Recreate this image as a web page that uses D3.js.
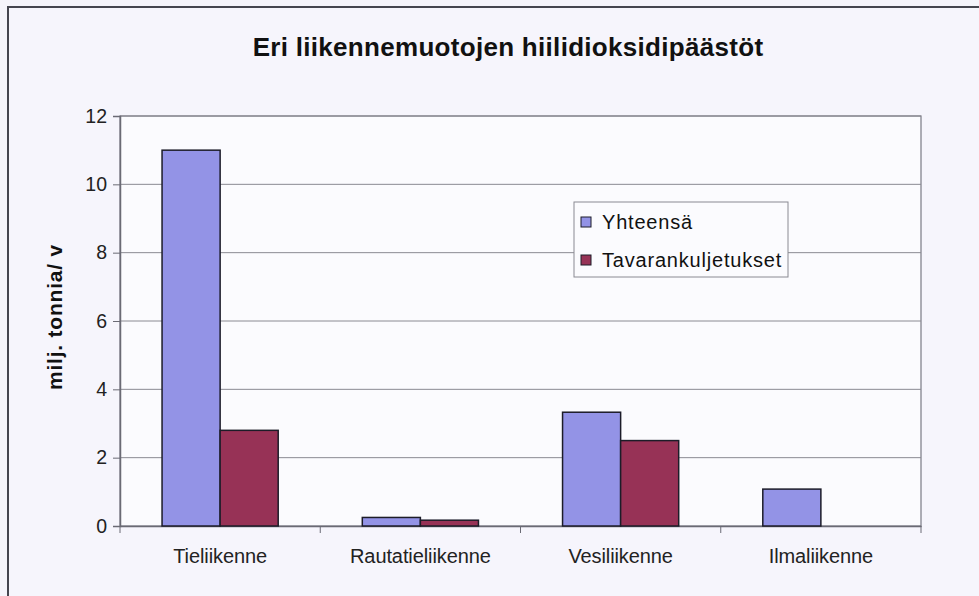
<!DOCTYPE html>
<html><head><meta charset="utf-8">
<script src="https://cdn.jsdelivr.net/npm/d3@7"></script>
<style>body{margin:0;background:#f5f4fb;}svg{display:block;font-family:"Liberation Sans",Arial,sans-serif;}</style>
</head><body>
<svg id="c" width="979" height="596"></svg>
<script>
const categories = ["Tieliikenne","Rautatieliikenne","Vesiliikenne","Ilmaliikenne"];
const seriesNames = ["Yhteensä","Tavarankuljetukset"];
const yhteensa = [11.0, 0.25, 3.33, 1.08];
const tavara = [2.8, 0.17, 2.5, 0];
const yTicks = [0,2,4,6,8,10,12];
const colors = ["#9393e6","#973256"];

const svg = d3.select("#c");
const L=120, R=921, T=116, B=526;
svg.append("rect").attr("x",8).attr("y",7).attr("width",990).attr("height",600)
  .attr("fill","#f6f5fc").attr("stroke","#45454f").attr("stroke-width",2);
svg.append("text").attr("x",508).attr("y",56).attr("text-anchor","middle")
  .attr("font-size",26).attr("font-weight","bold").attr("fill","#111").attr("letter-spacing","0.3")
  .text("Eri liikennemuotojen hiilidioksidipäästöt");

const x = d3.scaleBand().domain(categories).range([L,R]);
const xs = d3.scaleBand().domain(seriesNames).range([x.bandwidth()*0.21, x.bandwidth()*0.79]);
const y = d3.scaleLinear().domain([0,12]).range([B,T]);

svg.append("rect").attr("x",L).attr("y",T).attr("width",R-L).attr("height",B-T)
  .attr("fill","#fbfbfe").attr("stroke","#7a7a84").attr("stroke-width",1.2);
svg.append("g").selectAll("line").data(yTicks.filter(d=>d>0)).join("line")
  .attr("x1",L).attr("x2",R).attr("y1",d=>y(d)).attr("y2",d=>y(d))
  .attr("stroke","#8a8a92").attr("stroke-width",1);

const ya = svg.append("g").attr("transform",`translate(${L},0)`)
  .call(d3.axisLeft(y).tickValues(yTicks).tickSize(7).tickPadding(6));
ya.select(".domain").attr("stroke","#6a6a74").attr("stroke-width",1.5);
ya.selectAll(".tick line").attr("stroke","#6a6a74");
ya.selectAll("text").attr("font-size",19.5).attr("fill","#222").attr("font-family","Liberation Sans, Arial, sans-serif");

const xa = svg.append("g").attr("transform",`translate(0,${B})`)
  .call(d3.axisBottom(x).tickSize(0).tickPadding(23));
xa.select(".domain").attr("stroke","#6a6a74").attr("stroke-width",1.5);
xa.selectAll("text").attr("font-size",20).attr("fill","#222").attr("font-family","Liberation Sans, Arial, sans-serif").attr("letter-spacing","-0.1");
const bounds = categories.map(c=>x(c)).concat([R]);
svg.append("g").selectAll("line").data(bounds).join("line")
  .attr("x1",d=>d).attr("x2",d=>d).attr("y1",B).attr("y2",B+7).attr("stroke","#6a6a74");

const data = [yhteensa, tavara];
data.forEach((vals,si)=>{
  svg.append("g").selectAll("rect").data(vals.map((v,i)=>({v,c:categories[i]})).filter(d=>d.v>0)).join("rect")
    .attr("x",d=>x(d.c)+xs(seriesNames[si]))
    .attr("width",xs.bandwidth())
    .attr("y",d=>y(d.v)).attr("height",d=>B-y(d.v))
    .attr("fill",colors[si]).attr("stroke","#1c1c28").attr("stroke-width",1.5);
});

svg.append("text").attr("transform",`translate(62,${(T+B)/2-4}) rotate(-90)`).attr("text-anchor","middle")
  .attr("font-size",21).attr("font-weight","bold").attr("fill","#111").attr("letter-spacing","0.8").text("milj. tonnia/ v");

const lg = svg.append("g");
lg.append("rect").attr("x",574).attr("y",202).attr("width",214).attr("height",75)
  .attr("fill","#fbfbfe").attr("stroke","#8a8a92").attr("stroke-width",1);
seriesNames.forEach((n,i)=>{
  const cy = 222 + i*38;
  lg.append("rect").attr("x",581).attr("y",cy-5).attr("width",10).attr("height",10)
    .attr("fill",colors[i]).attr("stroke","#1c1c28").attr("stroke-width",1);
  lg.append("text").attr("x",602).attr("y",cy+7).attr("font-size",20).attr("fill","#111").attr("letter-spacing","0.8").text(n);
});
</script>
</body></html>
